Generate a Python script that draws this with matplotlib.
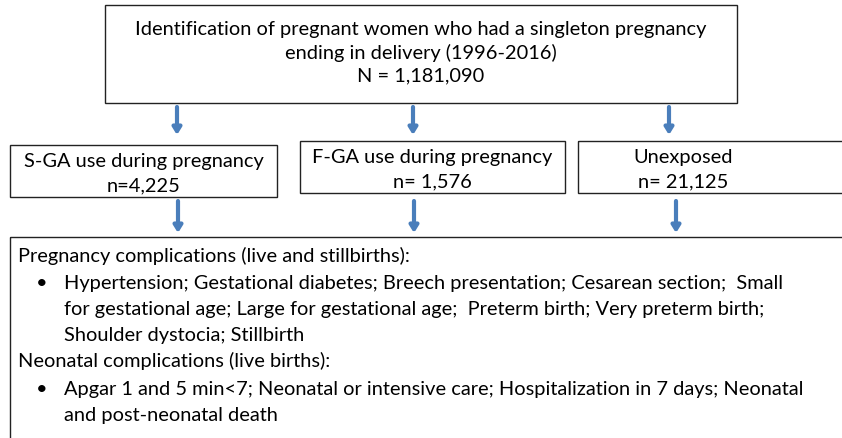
import matplotlib.pyplot as plt
from matplotlib.patches import Rectangle

plt.rcParams['font.family'] = ['Lato', 'DejaVu Sans']

top_lines = ["Identification of pregnant women who had a singleton pregnancy",
             "ending in delivery (1996-2016)",
             "N = 1,181,090"]
groups = ["S-GA use during pregnancy", "F-GA use during pregnancy", "Unexposed"]
group_n = ["n=4,225", "n= 1,576", "n= 21,125"]
preg_head = "Pregnancy complications (live and stillbirths):"
preg_items = ["Hypertension; Gestational diabetes; Breech presentation; Cesarean section;  Small",
              "for gestational age; Large for gestational age;  Preterm birth; Very preterm birth;",
              "Shoulder dystocia; Stillbirth"]
neo_head = "Neonatal complications (live births):"
neo_items = ["Apgar 1 and 5 min<7; Neonatal or intensive care; Hospitalization in 7 days; Neonatal",
             "and post-neonatal death"]

fig = plt.figure(figsize=(8.42, 4.38), dpi=100)
ax = fig.add_axes([0, 0, 1, 1])
ax.set_xlim(0, 842)
ax.set_ylim(438, 0)
ax.axis('off')

fs = 14.4
edge = '#222222'
arrow_col = '#4a7ebb'

def box(x0, y0, x1, y1):
    ax.add_patch(Rectangle((x0, y0), x1 - x0, y1 - y0, fill=False, ec=edge, lw=1.0))

def arrow(x, y0, y1):
    ax.annotate('', xy=(x, y1), xytext=(x, y0),
                arrowprops=dict(arrowstyle='-|>,head_width=0.25,head_length=0.4',
                                color=arrow_col, lw=3.0, shrinkA=0, shrinkB=0))

# top box
box(105, 5, 737, 103)
for i, line in enumerate(top_lines):
    ax.text(421, 29 + i * 23.5, line, ha='center', va='center', fontsize=fs)

# middle boxes
mid_boxes = [(10, 145, 277, 197), (300, 141, 565, 193), (578, 141, 845, 193)]
top_arrow_x = [177, 413, 669]
low_arrow_x = [178, 414, 676]
for (x0, y0, x1, y1), g, n, ax_top, ax_low in zip(mid_boxes, groups, group_n, top_arrow_x, low_arrow_x):
    box(x0, y0, x1, y1)
    cx = (x0 + x1) / 2 if x1 < 842 else 683
    ax.text(cx, y0 + 17, g, ha='center', va='center', fontsize=fs)
    ax.text(cx, y0 + 41, n, ha='center', va='center', fontsize=fs)
    arrow(ax_top, 107, 135)
    arrow(ax_low, 201, 233)

# bottom box
box(10, 237, 860, 450)
ax.text(18, 256, preg_head, ha='left', va='center', fontsize=fs)
y = 284
for i, line in enumerate(preg_items):
    if i == 0:
        ax.text(36, y, '\u2022', ha='left', va='center', fontsize=fs)
    ax.text(64, y, line, ha='left', va='center', fontsize=fs)
    y += 26
ax.text(18, 361, neo_head, ha='left', va='center', fontsize=fs)
y = 389
for i, line in enumerate(neo_items):
    if i == 0:
        ax.text(36, y, '\u2022', ha='left', va='center', fontsize=fs)
    ax.text(64, y, line, ha='left', va='center', fontsize=fs)
    y += 26

fig.savefig('out.png', dpi=100)
